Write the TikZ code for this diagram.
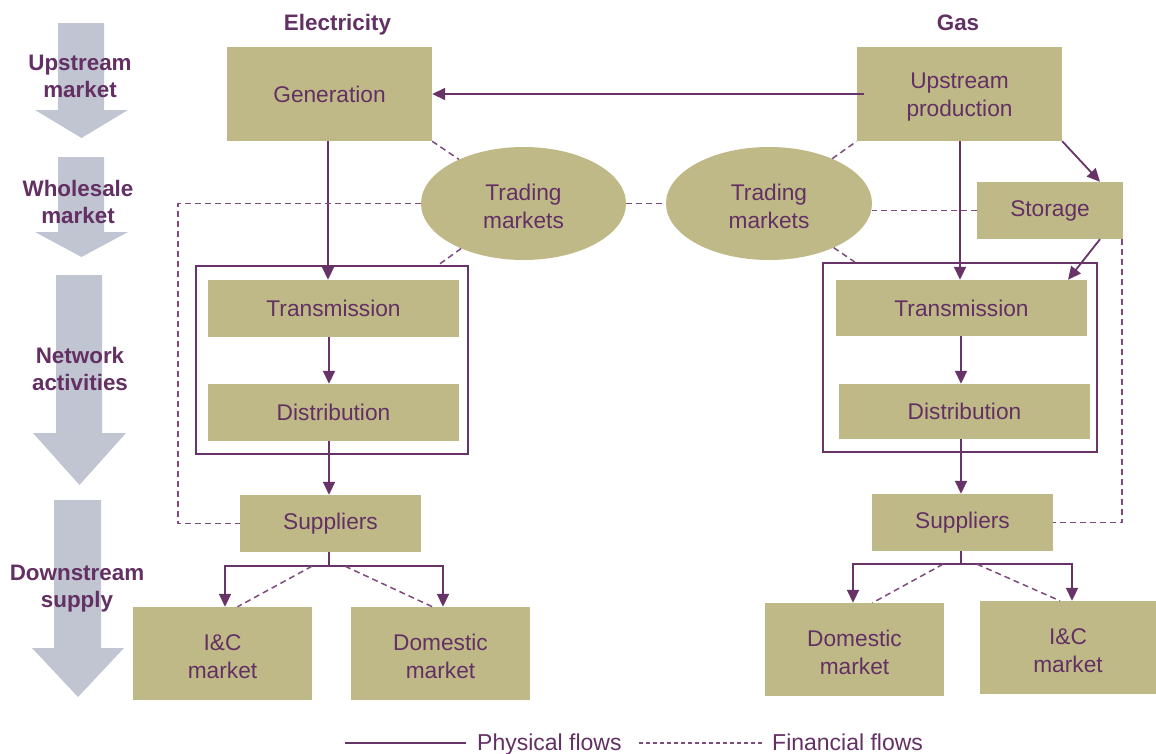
\documentclass[tikz,border=0pt]{standalone}
\usepackage{fontspec}
\setmainfont{Liberation Sans}
\usetikzlibrary{arrows.meta,shapes.geometric,calc}
\definecolor{olivebox}{RGB}{191,185,135}
\definecolor{txtpurple}{RGB}{99,48,99}
\definecolor{linepurple}{RGB}{104,52,104}
\definecolor{dashpurple}{RGB}{125,75,125}
\definecolor{grayarrow}{RGB}{192,197,209}
\tikzset{
  box/.style={fill=olivebox, text=txtpurple, font=\fontsize{22.7}{27.5}\selectfont, align=center, inner sep=0pt},
  twoline/.style={text height=49.5pt},
  ovalbox/.style={box, ellipse},
  framebox/.style={draw=linepurple, line width=1.6pt, inner sep=0pt},
  phys/.style={draw=linepurple, line width=1.8pt, -{Triangle[length=13pt,width=12pt]}},
  physplain/.style={draw=linepurple, line width=1.8pt},
  fin/.style={draw=dashpurple, line width=1.5pt, dash pattern=on 6pt off 4pt},
  stage/.style={text=txtpurple, font=\bfseries\fontsize{22.4}{27}\selectfont, align=center, inner sep=0pt},
  legendtxt/.style={text=txtpurple, font=\fontsize{23}{27}\selectfont, inner sep=0pt},
}
\begin{document}
\begin{tikzpicture}[x=1pt,y=-1pt]
\useasboundingbox (0,0) rectangle (1156,753);

% gray stage arrows
\fill[grayarrow] (58,23) -- (104,23) -- (104,110) -- (128,110) -- (81.5,138) -- (35,110) -- (58,110) -- cycle;
\fill[grayarrow] (58,157) -- (104,157) -- (104,232) -- (128,232) -- (81.5,257) -- (35,232) -- (58,232) -- cycle;
\fill[grayarrow] (56,275) -- (102,275) -- (102,433) -- (126,433) -- (79.5,485) -- (33,433) -- (56,433) -- cycle;
\fill[grayarrow] (54,500) -- (101,500) -- (101,648) -- (124,648) -- (78,697) -- (32,648) -- (54,648) -- cycle;

\node[stage] (s1) at (80,76) {Upstream\\market};
\node[stage] (s2) at (78,202) {Wholesale\\market};
\node[stage] (s3) at (80,368.5) {Network\\activities};
\node[stage] (s4) at (77,589) {Downstream\\supply};

\node[stage, anchor=base] (helec) at (337.5,30) {Electricity};
\node[stage, anchor=base] (hgas) at (958,30) {Gas};

% frames
\node[framebox, minimum width=272pt, minimum height=188pt] (frameL) at (332,360) {};
\node[framebox, minimum width=274pt, minimum height=189pt] (frameR) at (960,357.5) {};

% boxes
\node[box, minimum width=205pt, minimum height=94pt] (gen) at (329.5,94) {Generation};
\node[box, twoline, minimum width=205pt, minimum height=94pt] (up) at (959.5,94) {Upstream\\production};
\node[ovalbox, twoline, minimum width=205pt, minimum height=113pt] (ellL) at (523.5,203.5) {Trading\\markets};
\node[ovalbox, twoline, minimum width=206pt, minimum height=113pt] (ellR) at (769,203.5) {Trading\\markets};
\node[box, minimum width=146pt, minimum height=57pt] (stor) at (1050,210.5) {Storage};
\node[box, minimum width=251pt, minimum height=57pt] (transL) at (333.5,308.5) {Transmission};
\node[box, minimum width=251pt, minimum height=57pt] (distL) at (333.5,412.5) {Distribution};
\node[box, minimum width=251pt, minimum height=56pt] (transR) at (961.5,308) {Transmission};
\node[box, minimum width=251pt, minimum height=55pt] (distR) at (964.5,411.5) {Distribution};
\node[box, minimum width=181pt, minimum height=57pt] (supL) at (330.5,523.5) {Suppliers};
\node[box, minimum width=181pt, minimum height=57pt] (supR) at (962.5,522.5) {Suppliers};
\node[box, twoline, minimum width=179pt, minimum height=93pt] (icL) at (222.5,653.5) {I\&C\\market};
\node[box, twoline, minimum width=179pt, minimum height=93pt] (domL) at (440.5,653.5) {Domestic\\market};
\node[box, twoline, minimum width=179pt, minimum height=93pt] (domR) at (854.5,649.5) {Domestic\\market};
\node[box, twoline, minimum width=176pt, minimum height=93pt] (icR) at (1068,647.5) {I\&C\\market};

% physical flows
\draw[phys] ([xshift=7pt]up.west) -- (gen.east);
\draw[phys] ([xshift=-1.5pt]gen.south) -- ([xshift=-1.5pt]gen.south |- transL.north);
\draw[phys] ([xshift=-0.5pt]gen.south |- transL.south) -- ([xshift=-0.5pt]gen.south |- distL.north);
\draw[phys] ([xshift=-0.5pt]gen.south |- distL.south) -- ([xshift=-0.5pt]gen.south |- supL.north);
\draw[phys] ([xshift=0.5pt]up.south) -- ([xshift=0.5pt]up.south |- transR.north);
\draw[phys] ([xshift=1.5pt]up.south |- transR.south) -- ([xshift=1.5pt]up.south |- distR.north);
\draw[phys] ([xshift=1.5pt]up.south |- distR.south) -- ([xshift=1.5pt]up.south |- supR.north);
\draw[phys] (up.south east) -- ([xshift=50pt]stor.north);
\draw[phys] ([xshift=50pt]stor.south) -- ([xshift=106.5pt]transR.north);

\coordinate (jL) at ($(supL.south)+(-1.5,14)$);
\coordinate (jR) at ($(supR.south)+(-1.5,13)$);
\draw[physplain] (jL |- supL.south) -- (jL);
\draw[phys] (jL) -| ([xshift=2.5pt]icL.north);
\draw[phys] (jL) -| ([xshift=2.5pt]domL.north);
\draw[physplain] (jR |- supR.south) -- (jR);
\draw[phys] (jR) -| ([xshift=-1.5pt]domR.north);
\draw[phys] (jR) -| ([xshift=4pt]icR.north);

% financial flows
\draw[fin] (jL) ++(-17,0) -- ([xshift=15pt]icL.north);
\draw[fin] (jL) ++(16,0) -- ([xshift=-8pt]domL.north);
\draw[fin] (jR) ++(-18,0) -- ([xshift=18pt]domR.north);
\draw[fin] (jR) ++(16,0) -- ([xshift=-8pt]icR.north);

\draw[fin] (gen.south east) -- (ellL);
\draw[fin] (ellL) -- ([xshift=106pt]frameL.north);
\draw[fin] (ellL.west) -| ([xshift=-62pt]supL.west) -- (supL.west);
\draw[fin] (ellL.east) -- (ellR.west);
\draw[fin] (ellR) -- (up.south west);
\draw[fin] (ellR) -- ([xshift=-105pt]frameR.north);
\draw[fin] (stor.west) -- (stor.west -| ellR.east);
\draw[fin] ([xshift=-1pt]stor.south east) |- (supR.east);

% legend
\node[legendtxt, anchor=base west] (lphys) at (477,750) {Physical flows};
\node[legendtxt, anchor=base west] (lfin) at (772,750) {Financial flows};
\draw[physplain, line width=1.5pt] ([xshift=-11pt,yshift=7pt]lphys.base west) -- ++(-121,0);
\draw[fin, line width=1.2pt, dash pattern=on 4pt off 3pt] ([xshift=-10pt,yshift=7pt]lfin.base west) -- ++(-125,0);
\end{tikzpicture}
\end{document}
